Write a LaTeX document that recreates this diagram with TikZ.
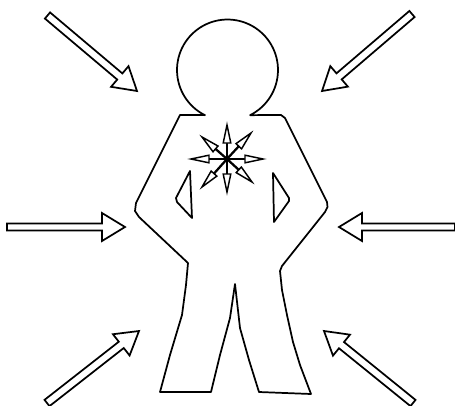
\documentclass[tikz,border=0pt]{standalone}
\usetikzlibrary{calc}
\tikzset{
  outline/.style={draw=black,line width=1.3pt,line join=round,line cap=round,fill=none},
  blockhead/.style={draw=black,line width=1.3pt,line join=miter,fill=white},
  starshaft/.style={draw=black,line width=1.7pt},
  starhead/.style={draw=black,line width=1.1pt,line join=miter,fill=white}
}
% tail, tip, shaft half width, head half width, head length (all px)
\newcommand{\blockarrow}[5]{%
  \coordinate (tl) at (#1);
  \coordinate (tp) at (#2);
  \coordinate (hb) at ($(tp)!#5*0.75pt!(tl)$);
  \draw[blockhead]
    ($(tl)!#3*0.75pt!90:(tp)$) --
    ($(hb)!#3*0.75pt!-90:(tl)$) --
    ($(hb)!#4*0.75pt!-90:(tl)$) --
    (tp) --
    ($(hb)!#4*0.75pt!90:(tl)$) --
    ($(hb)!#3*0.75pt!90:(tl)$) --
    ($(tl)!#3*0.75pt!-90:(tp)$) -- cycle;
}
% small arrow from star centre (sc): tip
\newcommand{\stararrow}[1]{%
  \coordinate (tp) at (#1);
  \coordinate (hb) at ($(tp)!18*0.75pt!(sc)$);
  \draw[starshaft] (sc) -- (hb);
  \draw[starhead]
    (tp) -- ($(hb)!3.8*0.75pt!90:(tp)$) -- ($(hb)!3.8*0.75pt!-90:(tp)$) -- cycle;
}
\begin{document}
\begin{tikzpicture}[x=0.75pt,y=-0.75pt]
\useasboundingbox (0,0) rectangle (455,405);
% body
\draw[outline]
  (205,115) -- (204,115)
  -- plot[domain=116.6:423.4,samples=80,smooth] ({227.5+50.5*cos(\x)},{70+50.5*sin(\x)})
  -- (278,115) -- (281,115) -- (285,118) -- (327,202) -- (327.5,207) -- (325,212)
  -- (282,266) -- (280,271) -- (282,290) -- (287,315) -- (293,342) -- (300,365) -- (311,394)
  -- (285,393) -- (259,392) -- (249,360) -- (240,328) -- (235,284)
  -- (230,318) -- (220,355) -- (211,392) -- (160,392)
  -- (170,355) -- (182,315) -- (186,285) -- (188,263)
  -- (139,217) -- (135,211) -- (136,203) -- (180,115) -- (205,115);
% arm holes
\draw[outline] (190,171) -- (176,198) -- (177,202) -- (192,218) -- cycle;
\draw[outline] (273,173) -- (289,198) -- (289,201) -- (274,222) -- cycle;
% big arrows
\blockarrow{47.5,15.5}{137,91}{4}{13.5}{22.5}
\blockarrow{412,14}{322,91}{4}{13.5}{22.5}
\blockarrow{7,227}{125,227}{3.5}{14}{23}
\blockarrow{455,227}{339,227}{3.5}{14}{23}
\blockarrow{47,403}{139,331}{4}{13.5}{22.5}
\blockarrow{413,403}{324,331}{4}{13.5}{22.5}
% star
\coordinate (sc) at (227,159);
\stararrow{227,125}
\stararrow{227,192}
\stararrow{191,159}
\stararrow{263,159}
\stararrow{251,133}
\stararrow{252,182}
\stararrow{202,187}
\stararrow{202,137}
\end{tikzpicture}
\end{document}
